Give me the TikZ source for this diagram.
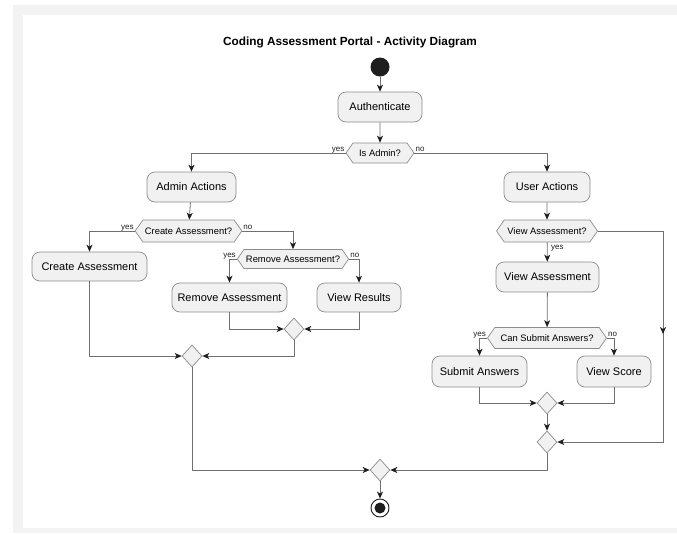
\documentclass[tikz,border=0pt]{standalone}
\usepackage{fontspec}
\setmainfont{Liberation Sans}
\usetikzlibrary{arrows.meta,shapes.geometric,shapes.symbols}
\definecolor{boxfill}{HTML}{F1F1F1}
\definecolor{boxline}{HTML}{8C8C8C}
\definecolor{flowline}{HTML}{707070}
\definecolor{tipcol}{HTML}{1E1E1E}
\definecolor{framegray}{HTML}{F3F3F3}

\begin{document}
\begin{tikzpicture}[x=1pt,y=-1pt,
  action/.style={draw=boxline, fill=boxfill, rounded corners=8pt, line width=0.7pt,
    minimum height=30pt, inner sep=0pt, font=\fontsize{11}{13}\selectfont},
  choice/.style={shape=signal, signal to=west and east, signal pointer angle=110,
    draw=boxline, fill=boxfill, line width=0.7pt, minimum height=21pt,
    inner xsep=2pt, inner ysep=0pt, font=\fontsize{9.4}{11}\selectfont},
  merge/.style={diamond, draw=boxline, fill=boxfill, line width=0.7pt,
    minimum width=20pt, minimum height=22pt, inner sep=0pt},
  flow/.style={draw=flowline, line width=0.8pt,
    -{Stealth[length=7pt,width=6pt,inset=2pt,color=tipcol]}},
  branch/.style={font=\fontsize{8}{9}\selectfont, inner sep=0pt, text=tipcol}
]
% page and light frame
\useasboundingbox (0,0) rectangle (677,533);
\fill[white] (0,0) rectangle (677,533);
\fill[framegray] (13,5) rectangle (677,533);
\fill[white] (23,15) rectangle (677,528);

% title
\node[font=\bfseries\fontsize{11.8}{14}\selectfont] (title) at (350,42)
  {Coding Assessment Portal - Activity Diagram};

% start / end
\node[circle, fill=tipcol, minimum size=19pt, inner sep=0pt] (start) at (380,67) {};
\node[circle, draw=tipcol, fill=white, line width=0.9pt, minimum size=18pt, inner sep=0pt] (end) at (380,508) {};
\node[circle, fill=tipcol, minimum size=11pt, inner sep=0pt] (endcore) at (380,508) {};

% activities
\node[action, minimum width=84pt]  (auth)    at (380,107)   {Authenticate};
\node[action, minimum width=89pt]  (admin)   at (191.5,187) {Admin Actions};
\node[action, minimum width=86pt]  (user)    at (547,187)   {User Actions};
\node[action, minimum width=115pt, minimum height=29pt] (create) at (89.5,266.5) {Create Assessment};
\node[action, minimum width=115pt, minimum height=29pt] (remove) at (229.5,297.5) {Remove Assessment};
\node[action, minimum width=84pt, minimum height=29pt]  (results) at (359,297.5) {View Results};
\node[action, minimum width=103pt] (view)    at (547.5,277) {View Assessment};
\node[action, minimum width=95pt, minimum height=31pt]  (submit) at (479.5,371.5) {Submit Answers};
\node[action, minimum width=74pt, minimum height=31pt]  (score)  at (614,371.5) {View Score};

% decisions
\node[choice, minimum width=68pt,  minimum height=20pt] (isadmin) at (380,153)   {Is Admin?};
\node[choice, minimum width=102pt, minimum height=22pt] (createq) at (188.5,231) {Create Assessment?};
\node[choice, minimum width=109pt, minimum height=19pt] (removeq) at (293,259)   {Remove Assessment?};
\node[choice, minimum width=101pt, minimum height=22pt] (viewq)   at (547,231)   {View Assessment?};
\node[choice, minimum width=119pt, minimum height=21pt] (submitq) at (547,338)   {Can Submit Answers?};

% merges
\node[merge] (m1) at (294,329) {};
\node[merge] (m2) at (192,356) {};
\node[merge] (m3) at (547,403) {};
\node[merge] (m4) at (547,442) {};
\node[merge] (m5) at (380,470) {};

% bypass path on the right
\coordinate (rt)   at (663,231);
\coordinate (rmid) at (663,334);
\coordinate (rb)   at (663,442);

% flows
\draw[flow] (start) -- (auth);
\draw[flow] (auth) -- (isadmin);
\draw[flow] (isadmin.west) -| (admin.north);
\draw[flow] (isadmin.east) -| (user.north);
\draw[flow] (admin) -- (createq);
\draw[flow] (createq.west) -| (create.north);
\draw[flow] (createq.east) -| (removeq.north);
\draw[flow] (removeq.west) -| (remove.north);
\draw[flow] (removeq.east) -| (results.north);
\draw[flow] (remove.south) |- (m1.west);
\draw[flow] (results.south) |- (m1.east);
\draw[flow] (m1.south) |- (m2.east);
\draw[flow] (create.south) |- (m2.west);
\draw[flow] (m2.south) |- (m5.west);
\draw[flow] (user) -- (viewq);
\draw[flow] (viewq) -- (view);
\draw[flow] (viewq.east) -- (rt) -- (rb) -- (m4.east);
\draw[flow] (rt) -- (rmid);
\draw[flow] (view) -- (submitq);
\draw[flow] (submitq.west) -| (submit.north);
\draw[flow] (submitq.east) -| (score.north);
\draw[flow] (submit.south) |- (m3.west);
\draw[flow] (score.south) |- (m3.east);
\draw[flow] (m3) -- (m4);
\draw[flow] (m4.south) |- (m5.east);
\draw[flow] (m5) -- (end);

% branch labels
\node[branch, anchor=base east] (l1) at ([xshift=-1pt,yshift=2pt]isadmin.west) {yes};
\node[branch, anchor=base west] (l2) at ([xshift=1pt,yshift=2pt]isadmin.east) {no};
\node[branch, anchor=base east] (l3) at ([xshift=-1pt,yshift=2pt]createq.west) {yes};
\node[branch, anchor=base west] (l4) at ([xshift=1pt,yshift=2pt]createq.east) {no};
\node[branch, anchor=base east] (l5) at ([xshift=-1pt,yshift=2pt]removeq.west) {yes};
\node[branch, anchor=base west] (l6) at ([xshift=1pt,yshift=2pt]removeq.east) {no};
\node[branch, anchor=west] (l7) at ([xshift=4pt,yshift=-6pt]viewq.south) {yes};
\node[branch, anchor=base east] (l8) at ([xshift=-1pt,yshift=2pt]submitq.west) {yes};
\node[branch, anchor=base west] (l9) at ([xshift=1pt,yshift=2pt]submitq.east) {no};
\end{tikzpicture}
\end{document}
